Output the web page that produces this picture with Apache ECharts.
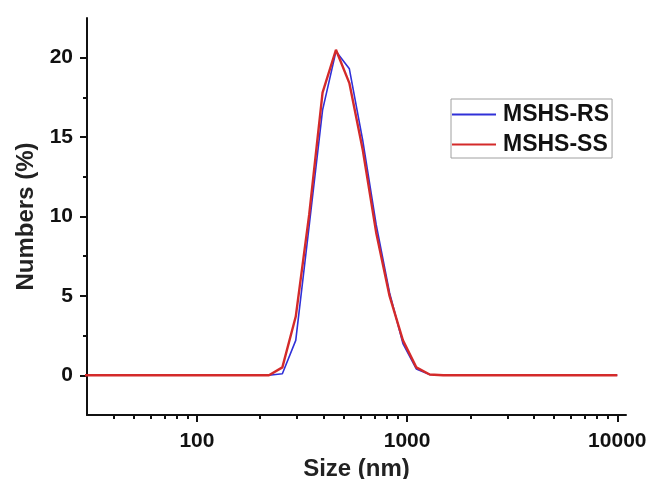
<!DOCTYPE html>
<html>
<head>
<meta charset="utf-8">
<script src="https://cdn.jsdelivr.net/npm/echarts@6/dist/echarts.min.js"></script>
<style>html,body{margin:0;padding:0;background:#fff}#c{width:651px;height:479px}</style>
</head>
<body>
<div id="c"></div>
<script>
// Size bins (nm)
var sizes = [28.2, 32.7, 37.8, 43.8, 50.7, 58.8, 68.1, 78.8, 91.3, 105.7, 122.4, 141.8, 164.2, 190.1,
  220.2, 255.0, 295.3, 342.0, 396.1, 458.7, 531.2, 615.1, 712.4, 825.0, 955.4, 1106, 1281,
  1484, 1718, 1990, 2305, 2669, 3091, 3580, 4145, 4801, 5560, 6439, 7456, 8635, 10000];
// Number distribution (%)
var rs = [0,0,0,0,0,0,0,0,0,0,0,0,0,0,
  0, 0.1, 2.2, 9.4, 16.7, 20.4, 19.3, 14.8, 9.5, 5.2, 2.0, 0.4, 0.05,
  0,0,0,0,0,0,0,0,0,0,0,0,0,0];
var ss = [0,0,0,0,0,0,0,0,0,0,0,0,0,0,
  0, 0.5, 3.7, 10.1, 17.8, 20.5, 18.4, 14.2, 9.0, 5.0, 2.2, 0.5, 0.05,
  0,0,0,0,0,0,0,0,0,0,0,0,0,0];
var xMajor = [100, 1000, 10000];
var xMinor = [40,50,60,70,80,90,200,300,400,500,600,700,800,900,2000,3000,4000,5000,6000,7000,8000,9000];
var yMajor = [0, 5, 10, 15, 20];
var yMinor = [2.5, 7.5, 12.5, 17.5];

function pairs(xs, ys){ return xs.map(function(x,i){ return [x, ys[i]]; }); }

var FONT = 'Liberation Sans';
var chart = echarts.init(document.getElementById('c'), null, {renderer:'canvas'});
chart.setOption({
  backgroundColor: '#fff',
  animation: false,
  grid: {left: 87, right: 25, top: 18, bottom: 64, containLabel: false, outerBoundsMode: 'none'},
  legend: {
    orient: 'vertical', left: 451, top: 99,
    padding: [4, 3, 2, 1],
    icon: 'rect',
    itemWidth: 44, itemHeight: 2, itemGap: 7,
    backgroundColor: '#fff',
    borderColor: '#a0a0a0', borderWidth: 1,
    textStyle: {fontFamily: FONT, fontWeight: 'bold', fontSize: 23, color: '#111', lineHeight: 22, padding: [0,0,0,2]},
    data: ['MSHS-RS', 'MSHS-SS']
  },
  xAxis: [{
    type: 'log', logBase: 10, min: 30, max: 11000, position: 'bottom',
    name: 'Size (nm)', nameLocation: 'middle', nameGap: 37,
    nameTextStyle: {fontFamily: FONT, fontWeight: 'bold', fontSize: 24, color: '#222'},
    axisLine: {onZero: false, lineStyle: {color: '#111', width: 2}},
    axisTick: {inside: false, customValues: xMajor, length: 7, lineStyle: {color: '#111', width: 2}},
    axisLabel: {customValues: xMajor, formatter: function(v){ return String(v); },
      fontFamily: FONT, fontWeight: 'bold', fontSize: 21, color: '#111', margin: 16},
    splitLine: {show: false}, minorTick: {show: false}
  }, {
    type: 'log', logBase: 10, min: 30, max: 11000, position: 'bottom',
    axisLine: {show: false, onZero: false},
    axisTick: {inside: false, customValues: xMinor, length: 4, lineStyle: {color: '#111', width: 2}},
    axisLabel: {show: false},
    splitLine: {show: false}
  }],
  yAxis: [{
    type: 'value', min: -2.5, max: 22.5,
    name: 'Numbers (%)', nameLocation: 'middle', nameGap: 49, nameRotate: 90,
    nameTextStyle: {fontFamily: FONT, fontWeight: 'bold', fontSize: 24, color: '#222'},
    axisLine: {show: true, onZero: false, lineStyle: {color: '#111', width: 2}},
    axisTick: {show: true, inside: false, customValues: yMajor, length: 7, lineStyle: {color: '#111', width: 2}},
    axisLabel: {customValues: yMajor, fontFamily: FONT, fontWeight: 'bold', fontSize: 21, color: '#111', margin: 14},
    splitLine: {show: false}
  }, {
    type: 'value', min: -2.5, max: 22.5, position: 'left',
    axisLine: {show: false, onZero: false},
    axisTick: {show: true, inside: false, customValues: yMinor, length: 4, lineStyle: {color: '#111', width: 2}},
    axisLabel: {show: false},
    splitLine: {show: false}
  }],
  series: [{
    name: 'MSHS-RS', type: 'line', xAxisIndex: 0, yAxisIndex: 0,
    data: pairs(sizes, rs), symbol: 'none',
    lineStyle: {color: '#3030d8', width: 1.6}, itemStyle: {color: '#3030d8'}
  }, {
    name: 'MSHS-SS', type: 'line', xAxisIndex: 0, yAxisIndex: 0,
    data: pairs(sizes, ss), symbol: 'none',
    lineStyle: {color: '#d42a2a', width: 2.4}, itemStyle: {color: '#d42a2a'}
  }]
});
</script>
</body>
</html>
